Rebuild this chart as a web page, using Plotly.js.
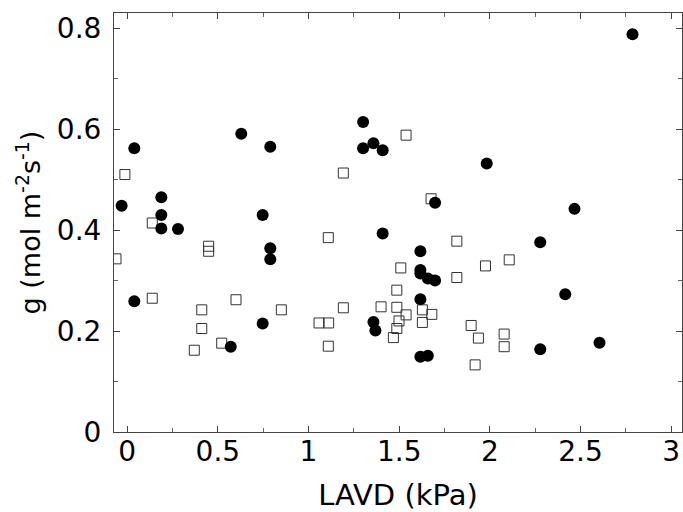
<!DOCTYPE html>
<html>
<head>
<meta charset="utf-8">
<script src="https://cdn.plot.ly/plotly-3.0.1.min.js"></script>
<style>html,body{margin:0;padding:0;background:#fff;}#chart{width:683px;height:512px;}</style>
</head>
<body>
<div id="chart"></div>
<script>
// Filled circles
const circleX = [0.039, -0.031, 0.188, 0.188, 0.188, 0.280, 0.629, 0.789, 0.747, 0.789, 0.789, 1.301, 1.301, 1.358, 1.409, 1.409, 2.787, 1.983, 1.698, 2.467, 0.039, 0.571, 0.747, 1.358, 1.369, 2.278, 1.617, 1.617, 1.617, 1.658, 1.698, 2.416, 1.617, 1.617, 1.658, 2.278, 2.605];
const circleY = [0.562, 0.448, 0.465, 0.430, 0.403, 0.402, 0.591, 0.565, 0.430, 0.364, 0.342, 0.614, 0.562, 0.572, 0.558, 0.393, 0.788, 0.532, 0.454, 0.442, 0.259, 0.169, 0.215, 0.218, 0.201, 0.376, 0.358, 0.321, 0.314, 0.304, 0.300, 0.273, 0.263, 0.149, 0.151, 0.164, 0.177];
// Open squares
const squareX = [-0.013, 1.192, 1.538, 1.676, 0.138, 0.449, 0.449, 1.109, -0.062, 0.138, 0.411, 0.411, 0.370, 0.521, 0.600, 0.850, 1.058, 1.111, 1.109, 1.192, 1.400, 1.468, 1.818, 2.107, 1.976, 1.509, 1.818, 1.487, 1.487, 1.628, 1.538, 1.680, 1.499, 1.628, 1.487, 1.897, 1.937, 2.079, 2.079, 1.919];
const squareY = [0.510, 0.513, 0.588, 0.462, 0.414, 0.368, 0.358, 0.385, 0.343, 0.265, 0.242, 0.205, 0.162, 0.176, 0.262, 0.242, 0.216, 0.216, 0.170, 0.246, 0.248, 0.187, 0.378, 0.341, 0.329, 0.325, 0.306, 0.281, 0.247, 0.242, 0.232, 0.233, 0.220, 0.217, 0.205, 0.211, 0.186, 0.194, 0.169, 0.133];

const traces = [
  {x: squareX, y: squareY, type: 'scatter', mode: 'markers', name: 'open',
   marker: {symbol: 'square-open', size: 10, color: '#333', line: {width: 1, color: '#333'}}},
  {x: circleX, y: circleY, type: 'scatter', mode: 'markers', name: 'filled',
   marker: {symbol: 'circle', size: 12, color: '#000'}}
];

const fam = '"DejaVu Sans", sans-serif';
const layout = {
  width: 683, height: 512,
  margin: {l: 114, r: 1, t: 13, b: 80},
  paper_bgcolor: '#fff', plot_bgcolor: '#fff',
  showlegend: false,
  font: {family: fam, color: '#000'},
  xaxis: {
    range: [-0.073, 3.06], tickmode: 'linear', tick0: 0, dtick: 0.5,
    ticks: 'inside', ticklen: 6, tickcolor: '#444', tickwidth: 1,
    minor: {dtick: 0.25, ticks: 'inside', ticklen: 4, tickcolor: '#666'},
    showline: true, linecolor: '#444', linewidth: 1, mirror: 'ticks',
    showgrid: false, zeroline: false, automargin: false,
    tickfont: {size: 28, family: fam, color: '#000'},
    ticklabelstandoff: -6,
    title: {text: 'LAVD (kPa)', font: {size: 29, family: fam, color: '#000'}, standoff: 19}
  },
  yaxis: {
    range: [0, 0.83], tickmode: 'linear', tick0: 0, dtick: 0.2,
    ticks: 'inside', ticklen: 6, tickcolor: '#444', tickwidth: 1,
    minor: {dtick: 0.1, ticks: 'inside', ticklen: 4, tickcolor: '#666'},
    showline: true, linecolor: '#444', linewidth: 1, mirror: 'ticks',
    showgrid: false, zeroline: false, automargin: false,
    tickfont: {size: 28, family: fam, color: '#000'},
    ticklabelstandoff: 6,
    title: {text: 'g (mol m<sup>-2</sup>s<sup>-1</sup>)', font: {size: 27, family: fam, color: '#000'}, standoff: 8}
  }
};
Plotly.newPlot('chart', traces, layout, {displayModeBar: false, staticPlot: true});
</script>
</body>
</html>
